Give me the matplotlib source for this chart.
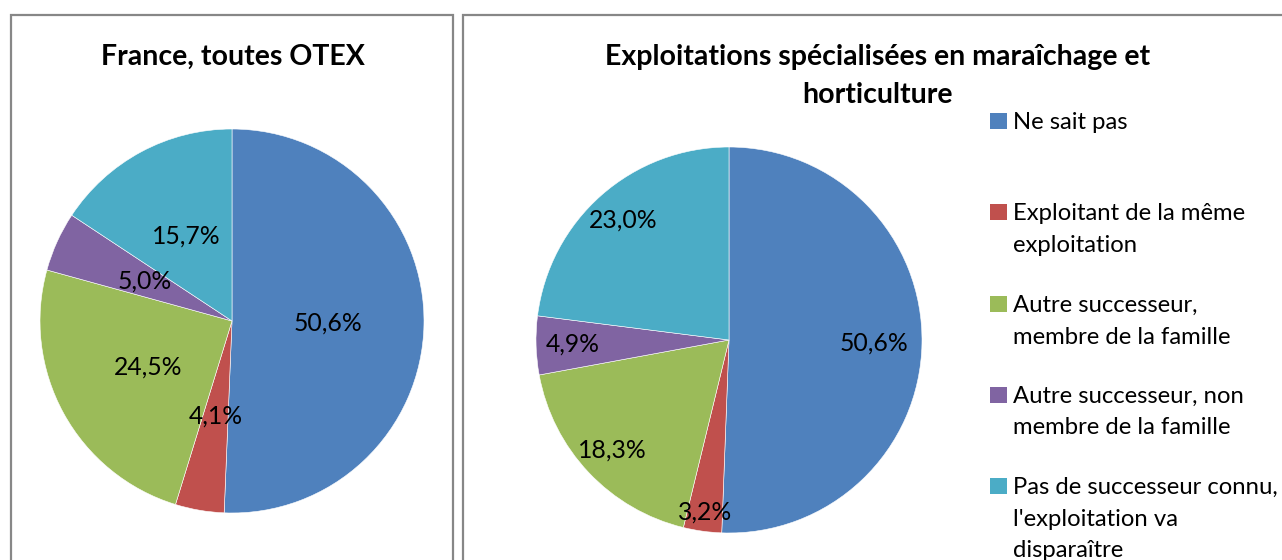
import matplotlib
matplotlib.use("Agg")
import matplotlib.pyplot as plt
from matplotlib.patches import Rectangle
import numpy as np

plt.rcParams['font.family'] = ['Lato', 'DejaVu Sans']

categories = [
    "Ne sait pas",
    "Exploitant de la même\nexploitation",
    "Autre successeur,\nmembre de la famille",
    "Autre successeur, non\nmembre de la famille",
    "Pas de successeur connu,\nl'exploitation va\ndisparaître",
]
france_values = [50.6, 4.1, 24.5, 5.0, 15.7]
maraichage_values = [50.6, 3.2, 18.3, 4.9, 23.0]
titles = ["France, toutes OTEX",
          "Exploitations spécialisées en maraîchage et\nhorticulture"]

colors = ["#4F81BD", "#C0504D", "#9BBB59", "#8064A2", "#4BACC6"]

W, H = 1282, 560
fig = plt.figure(figsize=(W / 100, H / 100), dpi=100)


def fx(px):
    return px / W


def fy(py):
    return 1 - py / H


# chart-area frames
border = "#878787"
for x0, x1 in [(11, 453), (463, 1300)]:
    fig.patches.append(Rectangle((fx(x0), fy(580)), fx(x1 - x0), (580 - 14.5) / H,
                                 transform=fig.transFigure, fill=False,
                                 edgecolor=border, linewidth=1.6, zorder=0))


def draw_pie(values, cx, cy, r, label_r):
    ax = fig.add_axes([fx(cx - r), fy(cy + r), fx(2 * r), 2 * r / H])
    wedges, _ = ax.pie(values, colors=colors, startangle=90, counterclock=False,
                       radius=1, wedgeprops=dict(edgecolor="white", linewidth=0.4),
                       normalize=True)
    ax.set_xlim(-1, 1)
    ax.set_ylim(-1, 1)
    ax.set_aspect("equal")
    ax.axis("off")
    for w, v, lr in zip(wedges, values, label_r):
        mid = np.deg2rad((w.theta1 + w.theta2) / 2)
        ax.text(lr * np.cos(mid), lr * np.sin(mid), f"{v:.1f}%".replace(".", ","),
                ha="center", va="center", fontsize=17.8, color="black", clip_on=False)
    return wedges


draw_pie(france_values, 232, 321, 192, [0.5] * 5)
draw_pie(maraichage_values, 729, 340, 193, [0.75, 0.9, 0.83, 0.81, 0.83])

# titles, one text line at a time
title_size = 20.5
for line, y in zip(titles[0].split("\n"), [57]):
    fig.text(fx(233), fy(y), line, ha="center", va="center",
             fontsize=title_size, fontweight="bold")
for line, y in zip(titles[1].split("\n"), [57, 95]):
    fig.text(fx(878), fy(y), line, ha="center", va="center",
             fontsize=title_size, fontweight="bold")

# legend: square aligned with the first line of each entry
baselines = [129, 220, 312, 403, 494]
line_step = 31.5
for name, col, base in zip(categories, colors, baselines):
    fig.patches.append(Rectangle((fx(990), fy(base)), fx(17), 16 / H,
                                 transform=fig.transFigure, facecolor=col,
                                 edgecolor="none"))
    for i, line in enumerate(name.split("\n")):
        fig.text(fx(1013), fy(base + i * line_step), line, ha="left",
                 va="baseline", fontsize=17.2)

fig.savefig("out.png", dpi=100)
